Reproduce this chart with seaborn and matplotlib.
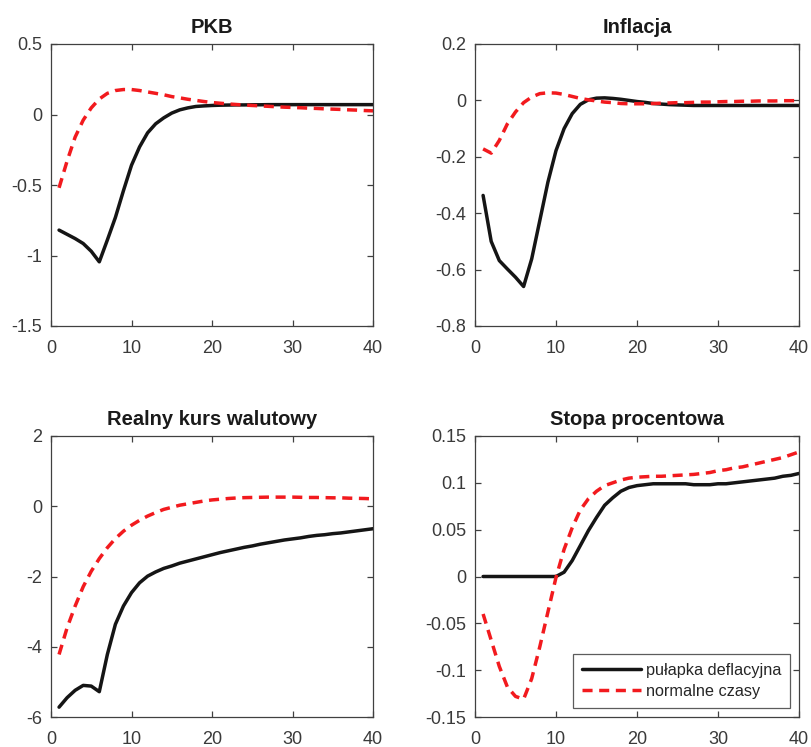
import numpy as np
import pandas as pd
import matplotlib
matplotlib.use("Agg")
import matplotlib.pyplot as plt
import seaborn as sns

periods = list(range(1, 41))

pkb_trap = [-0.82, -0.85, -0.88, -0.915, -0.97, -1.045, -0.89, -0.73, -0.54, -0.36,
            -0.23, -0.13, -0.066, -0.024, 0.01, 0.033, 0.047, 0.057, 0.061, 0.064,
            0.066, 0.067, 0.068, 0.068, 0.069, 0.069, 0.07, 0.07, 0.07, 0.07,
            0.07, 0.07, 0.07, 0.07, 0.07, 0.07, 0.07, 0.07, 0.07, 0.07]
pkb_norm = [-0.52, -0.33, -0.16, -0.04, 0.047, 0.11, 0.15, 0.17, 0.177, 0.177,
            0.17, 0.16, 0.15, 0.14, 0.127, 0.118, 0.108, 0.1, 0.092, 0.085,
            0.08, 0.075, 0.071, 0.067, 0.064, 0.061, 0.058, 0.055, 0.052, 0.05,
            0.048, 0.045, 0.043, 0.04, 0.038, 0.036, 0.033, 0.031, 0.028, 0.026]

inf_trap = [-0.337, -0.50, -0.568, -0.598, -0.627, -0.66, -0.562, -0.426, -0.29, -0.178,
            -0.10, -0.047, -0.014, 0.002, 0.008, 0.009, 0.007, 0.004, 0.0, -0.004,
            -0.007, -0.011, -0.013, -0.015, -0.016, -0.017, -0.018, -0.018, -0.018, -0.018,
            -0.018, -0.018, -0.018, -0.018, -0.018, -0.018, -0.018, -0.018, -0.018, -0.018]
inf_norm = [-0.172, -0.187, -0.142, -0.083, -0.041, -0.008, 0.012, 0.024, 0.027, 0.026,
            0.021, 0.014, 0.007, 0.002, -0.002, -0.006, -0.008, -0.011, -0.012, -0.012,
            -0.012, -0.011, -0.010, -0.009, -0.008, -0.008, -0.007, -0.006, -0.006, -0.005,
            -0.004, -0.004, -0.003, -0.003, -0.002, -0.002, -0.002, -0.001, -0.001, -0.001]

kurs_trap = [-5.72, -5.45, -5.24, -5.10, -5.12, -5.28, -4.22, -3.36, -2.84, -2.46,
             -2.18, -1.99, -1.87, -1.77, -1.70, -1.62, -1.56, -1.50, -1.44, -1.38,
             -1.32, -1.27, -1.22, -1.17, -1.13, -1.08, -1.04, -1.0, -0.96, -0.93,
             -0.90, -0.86, -0.83, -0.81, -0.78, -0.76, -0.73, -0.70, -0.67, -0.64]
kurs_norm = [-4.22, -3.46, -2.84, -2.29, -1.85, -1.49, -1.18, -0.92, -0.71, -0.54,
             -0.40, -0.28, -0.18, -0.09, -0.03, 0.03, 0.07, 0.11, 0.15, 0.18,
             0.20, 0.22, 0.235, 0.245, 0.25, 0.255, 0.26, 0.26, 0.26, 0.26,
             0.255, 0.25, 0.25, 0.245, 0.24, 0.24, 0.23, 0.225, 0.22, 0.21]

stopa_trap = [0.0, 0.0, 0.0, 0.0, 0.0, 0.0, 0.0, 0.0, 0.0, 0.0,
              0.0046, 0.017, 0.033, 0.049, 0.063, 0.076, 0.084, 0.091, 0.095, 0.097,
              0.098, 0.099, 0.099, 0.099, 0.099, 0.099, 0.098, 0.098, 0.098, 0.099,
              0.099, 0.1, 0.101, 0.102, 0.103, 0.104, 0.105, 0.107, 0.108, 0.11]
stopa_norm = [-0.040, -0.068, -0.096, -0.118, -0.128, -0.131, -0.109, -0.075, -0.038, -0.001,
              0.029, 0.052, 0.071, 0.083, 0.091, 0.097, 0.10, 0.103, 0.105, 0.106,
              0.1065, 0.107, 0.107, 0.1075, 0.108, 0.1085, 0.109, 0.11, 0.111, 0.113,
              0.114, 0.116, 0.117, 0.119, 0.121, 0.123, 0.125, 0.127, 0.13, 0.133]

titles = ["PKB", "Inflacja", "Realny kurs walutowy", "Stopa procentowa"]
series_names = ["pułapka deflacyjna", "normalne czasy"]
y_ticks = [
    [0.5, 0, -0.5, -1, -1.5],
    [0.2, 0, -0.2, -0.4, -0.6, -0.8],
    [2, 0, -2, -4, -6],
    [0.15, 0.1, 0.05, 0, -0.05, -0.1, -0.15],
]
y_labels = [
    ["0.5", "0", "-0.5", "-1", "-1.5"],
    ["0.2", "0", "-0.2", "-0.4", "-0.6", "-0.8"],
    ["2", "0", "-2", "-4", "-6"],
    ["0.15", "0.1", "0.05", "0", "-0.05", "-0.1", "-0.15"],
]
x_ticks = [0, 10, 20, 30, 40]

data = [(pkb_trap, pkb_norm), (inf_trap, inf_norm), (kurs_trap, kurs_norm), (stopa_trap, stopa_norm)]

sns.set_theme(style="ticks")
plt.rcParams["font.family"] = ["Liberation Sans", "DejaVu Sans"]

W, H = 811, 747
fig = plt.figure(figsize=(W / 100, H / 100), dpi=100)

boxes = [
    (51, 44, 373, 326),
    (475, 44, 799, 326),
    (51, 436, 373, 717),
    (475, 436, 799, 717),
]

axis_col = "#404040"
red = "#f21a1e"

for i, (b, (trap, norm)) in enumerate(zip(boxes, data)):
    l, t, r, bt = b
    ax = fig.add_axes([l / W, 1 - bt / H, (r - l) / W, (bt - t) / H])
    df = pd.DataFrame({"okres": periods * 2,
                       "val": list(trap) + list(norm),
                       "seria": [series_names[0]] * 40 + [series_names[1]] * 40})
    sns.lineplot(data=df, x="okres", y="val", hue="seria", style="seria",
                 palette=["#151515", red],
                 dashes={series_names[0]: "", series_names[1]: (2.9, 1.9)},
                 linewidth=2.5, ax=ax, legend=(i == 3))
    ax.set_xlim(0, 40)
    yt = y_ticks[i]
    ax.set_ylim(min(yt), max(yt))
    ax.set_xticks(x_ticks)
    ax.set_xticklabels([str(v) for v in x_ticks])
    ax.set_yticks(yt)
    ax.set_yticklabels(y_labels[i])
    ax.set_xlabel("")
    ax.set_ylabel("")
    ax.set_title(titles[i], fontsize=14.5, fontweight="bold", color="#1a1a1a", pad=8)
    for s in ax.spines.values():
        s.set_visible(True)
        s.set_color(axis_col)
        s.set_linewidth(0.9)
    ax.tick_params(direction="in", length=4, width=0.9, color=axis_col,
                   labelsize=13, labelcolor="#3a3a3a", top=True, right=True)
    ax.tick_params(axis="x", pad=10)
    ax.tick_params(axis="y", pad=6.5)
    ax.set_facecolor("white")
    if i == 3:
        leg = ax.legend(loc="lower right", fontsize=11.7, frameon=True, fancybox=False,
                        edgecolor="#333333", handlelength=3.6, borderpad=0.55,
                        labelspacing=0.4, handletextpad=0.3, borderaxespad=0,
                        bbox_to_anchor=(0.972, 0.032))
        leg.get_frame().set_linewidth(0.9)
        for lh in leg.get_lines():
            lh.set_linewidth(2.5)

fig.savefig("out.png", dpi=100, facecolor="white")
